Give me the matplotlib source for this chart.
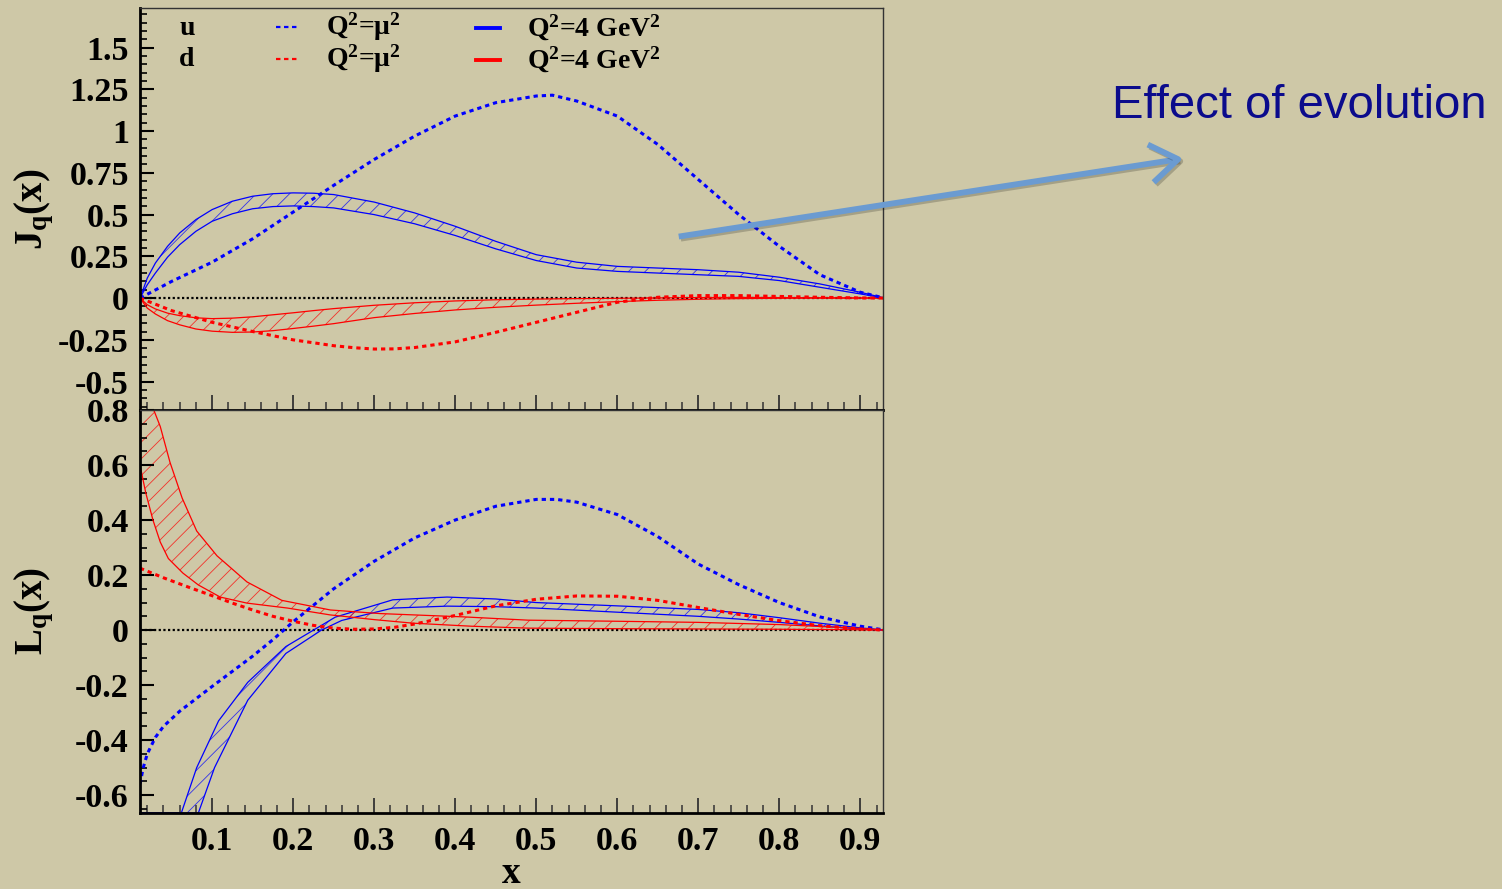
"""J_q(x) and L_q(x) for u and d quarks, at Q^2=mu^2 and after evolution to Q^2=4 GeV^2."""

import matplotlib

matplotlib.use("Agg")
import matplotlib.pyplot as plt
import matplotlib.patheffects as pe
import numpy as np
from matplotlib.lines import Line2D
from matplotlib.patches import FancyArrowPatch
from matplotlib.ticker import FuncFormatter, MultipleLocator

# ---- data ----
# J_q(x), initial scale Q^2 = mu^2 (dotted)
x_j_init = [0.011, 0.05, 0.1, 0.15, 0.2, 0.25, 0.3, 0.35, 0.4, 0.45, 0.5, 0.52, 0.55,
            0.6, 0.65, 0.7, 0.75, 0.8, 0.85, 0.9, 0.93]
j_u_init = [0.0, 0.1, 0.215, 0.355, 0.515, 0.675, 0.83, 0.97, 1.09, 1.17, 1.21, 1.215, 1.18,
            1.09, 0.92, 0.71, 0.50, 0.31, 0.14, 0.035, 0.0]
x_jd_init = [0.011, 0.05, 0.1, 0.15, 0.2, 0.25, 0.275, 0.3, 0.325, 0.35, 0.4, 0.45, 0.5,
             0.55, 0.6, 0.65, 0.7, 0.75, 0.8, 0.85, 0.9, 0.93]
j_d_init = [0.0, -0.075, -0.145, -0.2, -0.25, -0.285, -0.297, -0.305, -0.304, -0.296,
            -0.262, -0.205, -0.145, -0.085, -0.025, 0.005, 0.015, 0.015, 0.01, 0.005,
            0.001, 0.0]

# J_q(x), Q^2 = 4 GeV^2 (bands)
x_j_band = [0.011, 0.02, 0.03, 0.045, 0.06, 0.08, 0.1, 0.125, 0.15, 0.175, 0.2, 0.225,
            0.25, 0.3, 0.35, 0.4, 0.45, 0.5, 0.55, 0.6, 0.65, 0.7, 0.75, 0.8, 0.85, 0.9,
            0.93]
j_u_hi = [0.0, 0.12, 0.21, 0.31, 0.39, 0.47, 0.53, 0.58, 0.61, 0.625, 0.63, 0.628, 0.62,
          0.575, 0.51, 0.43, 0.34, 0.26, 0.215, 0.19, 0.18, 0.17, 0.155, 0.125, 0.085,
          0.035, 0.0]
j_u_lo = [0.0, 0.08, 0.15, 0.245, 0.32, 0.40, 0.46, 0.505, 0.535, 0.548, 0.552, 0.548,
          0.54, 0.50, 0.445, 0.375, 0.295, 0.225, 0.18, 0.16, 0.15, 0.14, 0.13, 0.105,
          0.065, 0.025, 0.0]
j_d_hi = [0.0, -0.04, -0.065, -0.09, -0.105, -0.118, -0.123, -0.12, -0.112, -0.10, -0.088,
          -0.075, -0.063, -0.043, -0.028, -0.017, -0.01, -0.006, -0.003, -0.001, 0.001,
          0.003, 0.004, 0.003, 0.002, 0.001, 0.0]
j_d_lo = [0.0, -0.06, -0.095, -0.135, -0.16, -0.185, -0.198, -0.205, -0.203, -0.195,
          -0.182, -0.168, -0.153, -0.117, -0.092, -0.071, -0.055, -0.042, -0.031, -0.021,
          -0.013, -0.007, -0.003, -0.001, 0.0, 0.0, 0.0]

# L_q(x), initial scale (dotted)
x_lu_init = [0.011, 0.015, 0.02, 0.03, 0.04, 0.06, 0.08, 0.1, 0.125, 0.15, 0.175, 0.2,
             0.25, 0.3, 0.35, 0.4, 0.45, 0.5, 0.525, 0.55, 0.6, 0.65, 0.7, 0.75, 0.8,
             0.85, 0.9, 0.93]
l_u_init = [-0.56, -0.50, -0.45, -0.39, -0.35, -0.295, -0.25, -0.205, -0.15, -0.095,
            -0.035, 0.03, 0.15, 0.25, 0.335, 0.40, 0.45, 0.475, 0.475, 0.465, 0.42, 0.34,
            0.24, 0.165, 0.10, 0.048, 0.014, 0.0]
x_ld_init = [0.011, 0.04, 0.07, 0.1, 0.125, 0.15, 0.175, 0.2, 0.225, 0.25, 0.275, 0.3,
             0.325, 0.35, 0.4, 0.45, 0.5, 0.55, 0.6, 0.65, 0.7, 0.75, 0.8, 0.85, 0.9, 0.93]
l_d_init = [0.225, 0.19, 0.157, 0.125, 0.098, 0.073, 0.05, 0.032, 0.017, 0.007, 0.003,
            0.004, 0.01, 0.022, 0.053, 0.088, 0.112, 0.124, 0.123, 0.108, 0.082, 0.057,
            0.034, 0.016, 0.004, 0.0]

# L_q(x), Q^2 = 4 GeV^2 (bands: two edges each)
x_lu_a = [0.011, 0.03, 0.05, 0.062, 0.081, 0.108, 0.144, 0.191, 0.252, 0.323, 0.39, 0.45,
          0.5, 0.6, 0.7, 0.75, 0.8, 0.85, 0.9, 0.93]
l_u_a = [-1.5, -1.1, -0.80, -0.665, -0.50, -0.33, -0.19, -0.06, 0.047, 0.11, 0.12, 0.113,
         0.10, 0.088, 0.075, 0.063, 0.045, 0.025, 0.008, 0.0]
x_lu_b = [0.011, 0.05, 0.07, 0.083, 0.103, 0.144, 0.191, 0.235, 0.26, 0.323, 0.39, 0.45,
          0.5, 0.6, 0.7, 0.75, 0.8, 0.85, 0.9, 0.93]
l_u_b = [-2.0, -1.1, -0.80, -0.665, -0.50, -0.255, -0.085, 0.0, 0.035, 0.08, 0.087, 0.085,
         0.08, 0.065, 0.05, 0.04, 0.028, 0.015, 0.004, 0.0]
x_ld_a = [0.011, 0.02, 0.028, 0.036, 0.048, 0.063, 0.081, 0.106, 0.143, 0.186, 0.246,
          0.307, 0.41, 0.49, 0.6, 0.7, 0.8, 0.9, 0.93]
l_d_a = [0.95, 0.87, 0.80, 0.74, 0.61, 0.48, 0.36, 0.27, 0.175, 0.108, 0.073, 0.06, 0.048,
         0.036, 0.032, 0.028, 0.02, 0.006, 0.0]
x_ld_b = [0.011, 0.018, 0.027, 0.036, 0.046, 0.064, 0.083, 0.11, 0.143, 0.193, 0.246, 0.3,
          0.348, 0.42, 0.49, 0.6, 0.7, 0.8, 0.9, 0.93]
l_d_b = [0.60, 0.50, 0.40, 0.32, 0.26, 0.207, 0.164, 0.12, 0.098, 0.08, 0.055, 0.038,
         0.025, 0.014, 0.007, 0.005, 0.004, 0.003, 0.001, 0.0]

x_ticks = [0.1, 0.2, 0.3, 0.4, 0.5, 0.6, 0.7, 0.8, 0.9]
leg_init = "Q$^{2}$=μ$^{2}$"
leg_evol = "Q$^{2}$=4 GeV$^{2}$"

XLIM = (0.011, 0.928)
J_LIM = (-0.67, 1.737)
L_LIM = (-0.665, 0.80)

BG = "#cec8a7"
BLUE = "#0000ff"
RED = "#ff0000"
DOT = (0, (1.4, 1.3))

plt.rcParams["font.family"] = ["Liberation Serif", "DejaVu Serif"]
plt.rcParams["font.weight"] = "bold"
plt.rcParams["axes.labelweight"] = "bold"
plt.rcParams["hatch.linewidth"] = 0.6
plt.rcParams["mathtext.fontset"] = "custom"
plt.rcParams["mathtext.rm"] = "Liberation Serif:bold"
plt.rcParams["mathtext.it"] = "Liberation Serif:bold"
plt.rcParams["mathtext.bf"] = "Liberation Serif:bold"

W, H = 1502, 889
fig = plt.figure(figsize=(W / 100, H / 100), dpi=100, facecolor=BG)
ax1 = fig.add_axes([140 / W, 1 - 410 / H, 743 / W, 402 / H], facecolor=BG)
ax2 = fig.add_axes([140 / W, 1 - 813 / H, 743 / W, 403 / H], facecolor=BG)


def band(ax, xa, ya, xb, yb, color, ylim):
    ya = np.clip(ya, *ylim)
    yb = np.clip(yb, *ylim)
    ax.fill(np.r_[xa, xb[::-1]], np.r_[ya, yb[::-1]], facecolor="none",
            edgecolor=(*matplotlib.colors.to_rgb(color), 0.75), linewidth=0, hatch="//")
    ax.plot(xa, ya, color=color, lw=0.9)
    ax.plot(xb, yb, color=color, lw=0.9)


def style(ax, ylim, major, minor):
    ax.set_xlim(*XLIM)
    ax.set_ylim(*ylim)
    ax.axhline(0, color="black", lw=1.6, ls=(0, (1, 1.1)), zorder=1)
    ax.xaxis.set_major_locator(MultipleLocator(0.1))
    ax.xaxis.set_minor_locator(MultipleLocator(0.02))
    ax.yaxis.set_major_locator(MultipleLocator(major))
    ax.yaxis.set_minor_locator(MultipleLocator(minor))
    ax.yaxis.set_major_formatter(FuncFormatter(lambda v, p: f"{v:g}"))
    ax.tick_params(axis="y", which="major", direction="in", length=10, width=1.5,
                   labelsize=24.5, pad=8, right=False)
    ax.tick_params(axis="y", which="minor", direction="in", length=5, width=1.2, right=False)
    ax.tick_params(axis="x", which="major", direction="in", length=11, width=1.3,
                   labelsize=24.5, pad=9, top=False, color="#333333")
    ax.tick_params(axis="x", which="minor", direction="in", length=5.5, width=1.1,
                   top=False, color="#333333")
    for side in ("left", "bottom"):
        ax.spines[side].set_linewidth(2)
        ax.spines[side].set_color("black")
    for side in ("top", "right"):
        ax.spines[side].set_linewidth(1)
        ax.spines[side].set_color("#333333")


# top panel: J_q(x)
style(ax1, J_LIM, 0.25, 0.05)
band(ax1, x_j_band, j_u_hi, x_j_band, j_u_lo, BLUE, J_LIM)
band(ax1, x_j_band, j_d_hi, x_j_band, j_d_lo, RED, J_LIM)
ax1.plot(x_j_init, j_u_init, color=BLUE, lw=2.2, ls=DOT)
ax1.plot(x_jd_init, j_d_init, color=RED, lw=2.2, ls=DOT)
ax1.tick_params(axis="x", labelbottom=False)
ax1.set_ylabel(r"$\mathrm{J_q(x)}$", fontsize=28)
ax1.yaxis.set_label_coords(-0.113, 0.5)

# bottom panel: L_q(x)
style(ax2, L_LIM, 0.2, 0.05)
band(ax2, x_lu_a, l_u_a, x_lu_b, l_u_b, BLUE, L_LIM)
band(ax2, x_ld_a, l_d_a, x_ld_b, l_d_b, RED, L_LIM)
ax2.plot(x_lu_init, l_u_init, color=BLUE, lw=2.2, ls=DOT)
ax2.plot(x_ld_init, l_d_init, color=RED, lw=2.2, ls=DOT)
ax2.set_xticks(x_ticks)
ax2.set_xticklabels([f"{v:g}" for v in x_ticks])
ax2.set_xlabel("x", fontsize=27)
ax2.xaxis.set_label_coords(0.5, -0.106)
ax2.set_ylabel(r"$\mathrm{L_q(x)}$", fontsize=28)
ax2.yaxis.set_label_coords(-0.113, 0.5)


# legend, laid out like the ROOT one (samples and labels in figure pixels)
def fpx(px, py):
    return px / W, 1 - py / H


for txt, py in (("u", 35), ("d", 66)):
    fig.text(*fpx(187, py), txt, fontsize=20, ha="center", va="baseline")
rows = [
    (27, dict(color=BLUE, lw=1.6, ls=(0, (2, 1.6))), leg_init, 326),
    (59, dict(color=RED, lw=1.6, ls=(0, (2, 1.6))), leg_init, 326),
]
rows2 = [
    (28, dict(color=BLUE, lw=2.8), leg_evol, 527),
    (60, dict(color=RED, lw=2.8), leg_evol, 527),
]
for (py, kw, txt, tx), x0 in [(r, 276) for r in rows] + [(r, 476) for r in rows2]:
    (xa, ya), (xb, _) = fpx(x0, py), fpx(x0 + 24, py)
    fig.add_artist(Line2D([xa, xb], [ya, ya], transform=fig.transFigure, **kw))
    fig.text(*fpx(tx, py + 8), txt, fontsize=20, ha="left", va="baseline")

# annotation
fig.text(1112 / W, 1 - 106 / H, "Effect of evolution", fontsize=34, color="#0b0b8c",
         family="Liberation Sans", weight="normal", ha="left", va="center")
arrow = FancyArrowPatch((676 / W, 1 - 237 / H), (1186 / W, 1 - 158 / H),
                        transform=fig.transFigure,
                        arrowstyle="->,head_length=0.8,head_width=0.55",
                        mutation_scale=25, lw=4.2, color="#6b9bd1", capstyle="butt",
                        path_effects=[pe.SimpleLineShadow(offset=(1.5, -1.5), alpha=0.2),
                                      pe.Normal()])
fig.add_artist(arrow)

fig.savefig("out.png", dpi=100, facecolor=BG)
